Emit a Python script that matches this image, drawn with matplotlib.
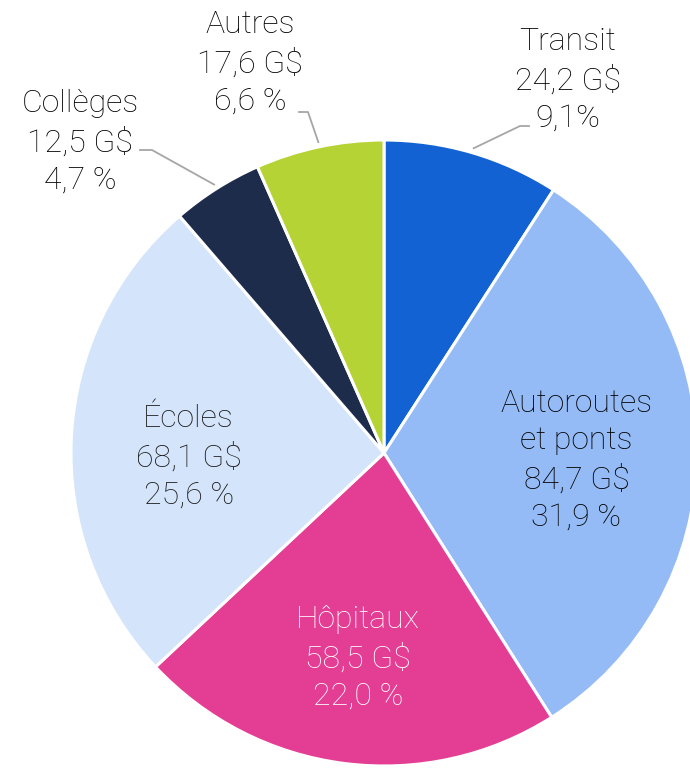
import numpy as np
import matplotlib
matplotlib.use("Agg")
import matplotlib.pyplot as plt

plt.rcParams['font.family'] = ['Roboto', 'DejaVu Sans']

# data, clockwise from the top
categories = ["Transit", "Autoroutes\net ponts", "Hôpitaux", "Écoles", "Collèges", "Autres"]
values = [24.2, 84.7, 58.5, 68.1, 12.5, 17.6]
pct_labels = ["9,1%", "31,9 %", "22,0 %", "25,6 %", "4,7 %", "6,6 %"]
value_labels = ["24,2 G$", "84,7 G$", "58,5 G$", "68,1 G$", "12,5 G$", "17,6 G$"]
colors = ["#1262D3", "#94BBF6", "#E43E94", "#D4E4FA", "#1D2C4B", "#B5D335"]
text_colors = ["black", "black", "white", "#1a1a1a", "black", "black"]
inside = [False, True, True, True, False, False]

W, H = 690, 768
cx, cy, R = 384, 453, 313


def px(x, y):
    return (x - cx) / R, (cy - y) / R


fig = plt.figure(figsize=(W / 100, H / 100), dpi=100)
ax = fig.add_axes([0, 0, 1, 1])
wedges, _ = ax.pie(values, colors=colors, startangle=90, counterclock=False,
                   radius=1, wedgeprops=dict(edgecolor="white", linewidth=2.2))
ax.set_xlim(-cx / R, (W - cx) / R)
ax.set_ylim(-(H - cy) / R, cy / R)
ax.axis("off")

fs = 23
ls = 1.36
# small vertical nudges for inside labels (data units)
nudge = {1: 0.018, 2: 0.0, 3: -0.005}
for i, w in enumerate(wedges):
    if not inside[i]:
        continue
    a = np.deg2rad((w.theta1 + w.theta2) / 2)
    r = 0.62
    txt = f"{categories[i]}\n{value_labels[i]}\n{pct_labels[i]}"
    ax.text(r * np.cos(a) - 0.005, r * np.sin(a) - 0.04 + nudge[i], txt,
            ha="center", va="center", fontsize=fs, color=text_colors[i],
            fontweight="light", linespacing=ls)

# outside labels: (text centre in px, elbow px, end px)
outside_layout = {
    0: ((568, 80), (520, 126), (529, 126)),
    5: ((250, 63), (308, 112), (299, 112)),
    4: ((80, 142), (152, 150), (140, 150)),
}
for i, (tpos, elbow, end) in outside_layout.items():
    w = wedges[i]
    a = np.deg2rad((w.theta1 + w.theta2) / 2)
    start = (1.015 * np.cos(a), 1.015 * np.sin(a))
    e = px(*elbow)
    f = px(*end)
    ax.plot([start[0], e[0], f[0]], [start[1], e[1], f[1]], color="#A6A6A6", lw=1.3)
    txt = f"{categories[i]}\n{value_labels[i]}\n{pct_labels[i]}"
    tx, ty = px(*tpos)
    ax.text(tx, ty, txt, ha="center", va="center", fontsize=fs, color="black",
            fontweight="light", linespacing=ls)

fig.savefig("out.png", dpi=100)
